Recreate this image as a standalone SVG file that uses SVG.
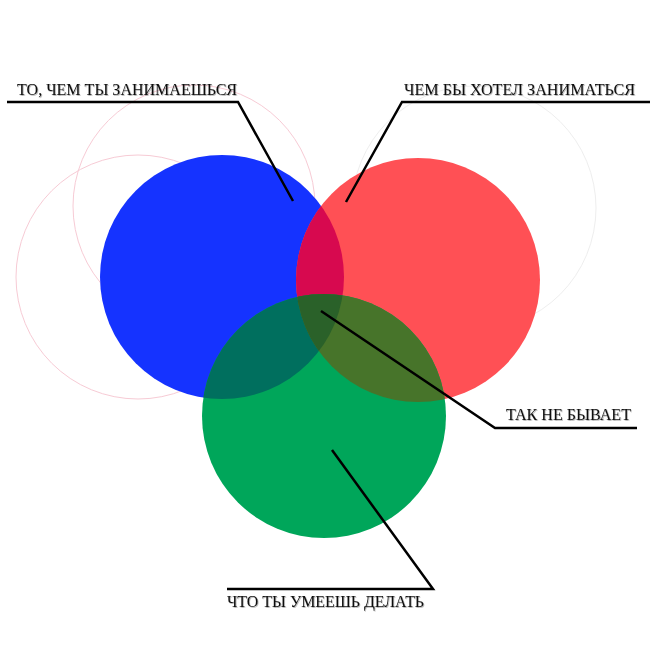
<svg xmlns="http://www.w3.org/2000/svg" width="650" height="650" viewBox="0 0 650 650">
<defs>
<style>
.lbl{font-family:"Liberation Serif","Times New Roman",serif;font-size:16px;fill:#111;filter:url(#soft);}
.ghost{fill:none;stroke-width:1;}
.conn{fill:none;stroke:#000;stroke-width:2.5;stroke-linejoin:miter;}
</style>
<filter id="soft" x="-5%" y="-30%" width="110%" height="160%">
<feDropShadow dx="0.8" dy="0.8" stdDeviation="0.6" flood-color="#000" flood-opacity="0.35"/>
</filter>
<clipPath id="cBlue"><circle cx="222" cy="277" r="122"/></clipPath>
<clipPath id="cRed"><circle cx="418" cy="280" r="122"/></clipPath>
</defs>
<rect width="650" height="650" fill="#fff"/>
<g id="ghosts">
<circle class="ghost" cx="138" cy="277" r="122" stroke="#f7cbd5"/>
<circle class="ghost" cx="194" cy="206" r="121" stroke="#f7cbd5"/>
<circle class="ghost" cx="474" cy="208" r="122" stroke="#eeeeee"/>
</g>
<g id="blue"><circle cx="222" cy="277" r="122" fill="#1533FF"/></g>
<g id="red"><circle cx="418" cy="280" r="122" fill="#FF5055"/></g>
<g id="green"><circle cx="324" cy="416" r="122" fill="#00A65A"/></g>
<g id="overlaps">
<circle cx="418" cy="280" r="122" fill="#D7094F" clip-path="url(#cBlue)"/>
<circle cx="324" cy="416" r="122" fill="#006F5E" clip-path="url(#cBlue)"/>
<circle cx="324" cy="416" r="122" fill="#47742A" clip-path="url(#cRed)"/>
<g clip-path="url(#cBlue)"><circle cx="324" cy="416" r="122" fill="#2A6129" clip-path="url(#cRed)"/></g>
</g>
<g id="connectors">
<polyline class="conn" points="7,102 238,102 293,201"/>
<polyline class="conn" points="650,102 402,102 346,202"/>
<polyline class="conn" points="637,428 495,428 321,311"/>
<polyline class="conn" points="227,589 433,589 332,450"/>
</g>
<g id="label-doing"><text class="lbl" x="17" y="95" textLength="220" lengthAdjust="spacingAndGlyphs">ТО, ЧЕМ ТЫ ЗАНИМАЕШЬСЯ</text></g>
<g id="label-want"><text class="lbl" x="404" y="95" textLength="231" lengthAdjust="spacingAndGlyphs">ЧЕМ БЫ ХОТЕЛ ЗАНИМАТЬСЯ</text></g>
<g id="label-never"><text class="lbl" x="506" y="420" textLength="125" lengthAdjust="spacingAndGlyphs">ТАК НЕ БЫВАЕТ</text></g>
<g id="label-can"><text class="lbl" x="227" y="607" textLength="197" lengthAdjust="spacingAndGlyphs">ЧТО ТЫ УМЕЕШЬ ДЕЛАТЬ</text></g>
</svg>
